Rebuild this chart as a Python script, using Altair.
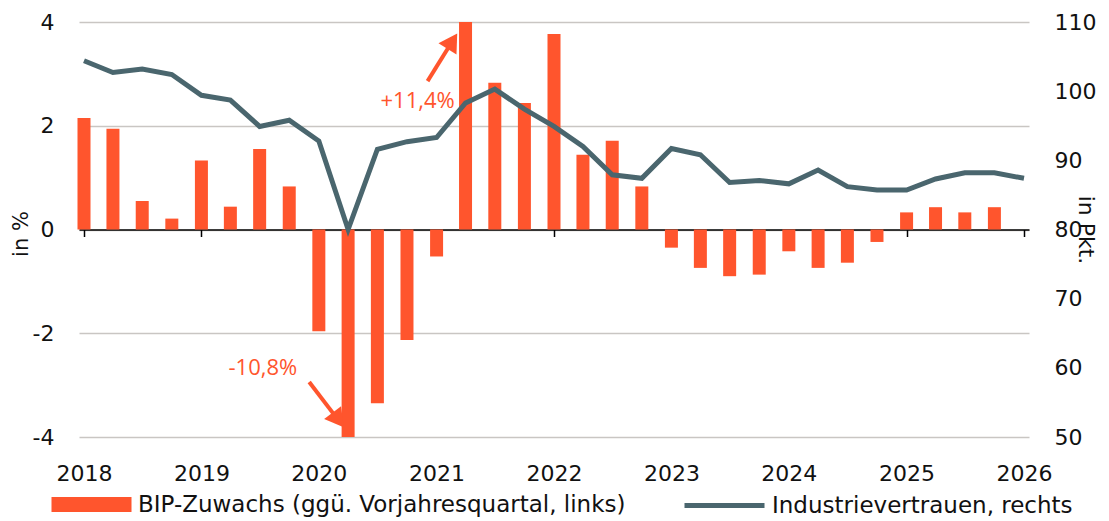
import altair as alt
import pandas as pd

# ---------------- data ----------------
bar_dates = pd.date_range("2018-01-01", "2025-10-01", freq="QS").strftime("%Y-%m-%d").tolist()
line_dates = pd.date_range("2018-01-01", "2026-01-01", freq="QS").strftime("%Y-%m-%d").tolist()

gdp_growth = [2.15, 1.94, 0.55, 0.21, 1.33, 0.44, 1.55, 0.83,
              -1.96, -10.8, -3.35, -2.13, -0.52, 11.4, 2.83, 2.44,
              3.77, 1.44, 1.71, 0.83, -0.35, -0.74, -0.90, -0.87,
              -0.42, -0.74, -0.64, -0.24, 0.33, 0.43, 0.33, 0.43]

industry_conf = [104.4, 102.7, 103.2, 102.4, 99.4, 98.7, 94.9, 95.8,
                 92.8, 80.0, 91.6, 92.7, 93.3, 98.3, 100.3, 97.4,
                 94.9, 92.0, 87.9, 87.4, 91.7, 90.8, 86.8, 87.1,
                 86.6, 88.6, 86.2, 85.7, 85.7, 87.3, 88.2, 88.2, 87.4]

year_ticks = list(range(2018, 2027))
left_ticks = [-4, -2, 0, 2, 4]
right_ticks = [50, 60, 70, 80, 90, 100, 110]

bar_label = "BIP-Zuwachs (ggü. Vorjahresquartal, links)"
line_label = "Industrievertrauen, rechts"

ann_texts = ["+11,4%", "-10,8%"]
ann_text_dates = ["2020-11-03", "2019-07-11"]
ann_text_vals = [2.48, -2.67]
arrow_start_dates = ["2020-12-04", "2019-12-02"]
arrow_start_vals = [2.86, -2.94]
arrow_head_dates = ["2021-02-19", "2020-03-01"]
arrow_head_vals = [3.63, -3.67]

ORANGE = "#FF552D"
SLATE = "#4A666E"
FONT = "DejaVu Sans"
ANN_FONT = "Open Sans"

bars_df = pd.DataFrame({"date": bar_dates, "value": gdp_growth, "series": bar_label})
line_df = pd.DataFrame({"date": line_dates, "value": industry_conf, "series": line_label})
text_df = pd.DataFrame({"date": ann_text_dates, "value": ann_text_vals, "text": ann_texts})
arrow_df = pd.DataFrame({"d1": arrow_start_dates, "v1": arrow_start_vals,
                         "d2": arrow_head_dates, "v2": arrow_head_vals})

x_scale = alt.Scale(type="utc", domain=["2018-01-01", "2026-01-01"])
y_left = alt.Scale(domain=[-4, 4], nice=False, clamp=True)
y_right = alt.Scale(domain=[50, 110], nice=False)

H = 415
W = 950

x_axis = alt.Axis(
    values=[alt.DateTime(year=y, month=1, date=1, utc=True) for y in year_ticks],
    format="%Y", formatType="utc", title=None, grid=False,
    domain=True, domainColor="#000000", domainWidth=1.5,
    ticks=True, tickColor="#000000", tickWidth=1.5, tickSize=7,
    offset=-H / 2, labelPadding=227, labelFlush=False, labelOverlap=False,
    labelFontSize=22,
)

left_axis = alt.Axis(
    values=left_ticks, grid=True, gridColor="#C9C6C3", gridWidth=1.5,
    domain=False, ticks=False, tickSize=0, labelPadding=25, labelFontSize=22,
    labelExpr="toString(datum.value)",
    title="in %", titleFontSize=21, titleX=-58, titleY=211.5,
    titleAlign="center", titleBaseline="middle", titleAngle=270,
)

right_axis = alt.Axis(
    orient="right", values=right_ticks, grid=False,
    domain=False, ticks=False, tickSize=0, labelPadding=25, labelFontSize=22,
    title="in Pkt.", titleFontSize=22, titleX=56, titleY=207.5,
    titleAlign="center", titleBaseline="middle", titleAngle=90,
)

bars = alt.Chart(bars_df).mark_bar(size=13).encode(
    x=alt.X("date:T", scale=x_scale, axis=x_axis),
    y=alt.Y("value:Q", scale=y_left, axis=left_axis),
    color=alt.Color("series:N", scale=alt.Scale(range=[ORANGE]),
                    legend=alt.Legend(orient="none", legendX=1, legendY=471, title=None,
                                      symbolType="M-4,-0.75L4,-0.75L4,0.75L-4,0.75Z",
                                      symbolSize=400, symbolStrokeWidth=0,
                                      labelFontSize=23, labelOffset=35, labelLimit=800,
                                      padding=0)),
)

shafts = alt.Chart(arrow_df).mark_rule(color=ORANGE, strokeWidth=4).encode(
    x=alt.X("d1:T", scale=x_scale),
    y=alt.Y("v1:Q", scale=y_left),
    x2="d2:T",
    y2="v2:Q",
)

head_up = alt.Chart(arrow_df.iloc[[0]]).mark_point(
    shape="triangle-up", filled=True, color=ORANGE, opacity=1, size=450, angle=32
).encode(x=alt.X("d2:T", scale=x_scale), y=alt.Y("v2:Q", scale=y_left))

head_down = alt.Chart(arrow_df.iloc[[1]]).mark_point(
    shape="triangle-up", filled=True, color=ORANGE, opacity=1, size=450, angle=143
).encode(x=alt.X("d2:T", scale=x_scale), y=alt.Y("v2:Q", scale=y_left))

labels = alt.Chart(text_df).mark_text(
    color=ORANGE, font=ANN_FONT, fontSize=22, align="center", baseline="middle"
).encode(
    x=alt.X("date:T", scale=x_scale),
    y=alt.Y("value:Q", scale=y_left),
    text="text:N",
)

left = alt.layer(bars, shafts, head_up, head_down, labels)

line = alt.Chart(line_df).mark_line(strokeWidth=5).encode(
    x=alt.X("date:T", scale=x_scale, axis=x_axis),
    y=alt.Y("value:Q", scale=y_right, axis=right_axis),
    stroke=alt.Stroke("series:N", scale=alt.Scale(range=[SLATE]),
                      legend=alt.Legend(orient="none", legendX=633, legendY=471, title=None,
                                        symbolType="M-4,0L4,0", symbolSize=400,
                                        symbolStrokeWidth=5, symbolStrokeColor=SLATE,
                                        labelFontSize=23, labelOffset=35, labelLimit=800,
                                        padding=0)),
)

chart = alt.layer(left, line).resolve_scale(
    y="independent", color="independent", stroke="independent"
).properties(
    width=W, height=H, padding={"left": 2, "top": 3, "right": 5, "bottom": 0}
).configure_axis(
    labelFont=FONT, titleFont=FONT, labelColor="#111111", titleColor="#111111",
    titleFontWeight="normal",
).configure_legend(
    labelFont=FONT, labelColor="#111111",
).configure_view(stroke=None)

chart.save("out.html", embed_options={"renderer": "svg", "actions": False})
